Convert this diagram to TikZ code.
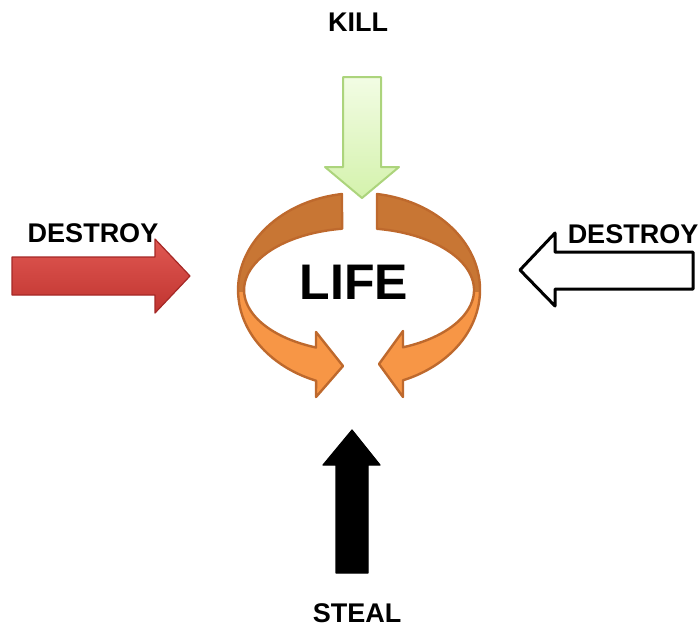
\documentclass[tikz,border=0pt]{standalone}
\usepackage{fontspec}
\setmainfont{Liberation Sans}
\definecolor{ringdark}{RGB}{200,118,52}
\definecolor{ringlight}{RGB}{247,150,70}
\definecolor{ringedge}{RGB}{190,105,45}
\definecolor{killtop}{RGB}{242,252,228}
\definecolor{killbot}{RGB}{212,242,172}
\definecolor{killedge}{RGB}{172,212,124}
\definecolor{redtop}{RGB}{224,88,82}
\definecolor{redbot}{RGB}{192,52,48}
\definecolor{rededge}{RGB}{165,40,38}
\begin{document}
\begin{tikzpicture}[x=0.5pt,y=-0.5pt]
   \tikzset{word/.style={font=\fontsize{13.5}{14}\selectfont\bfseries, inner sep=0pt},
            ring/.style={draw=ringedge, line width=1.2pt, fill=ringlight, line join=round,
                         path picture={\fill[ringdark] (0,0) rectangle (700,292);}}};

\useasboundingbox (0,0) rectangle (700,629);

% the two bent arrows round LIFE
\path[ring] (342,194) arc[start angle=261.9, end angle=110.8, x radius=121, y radius=97]
   -- (316,397) -- (343,366) -- (316,332) -- (316,347.5)
   arc[start angle=112, end angle=261.5, x radius=115, y radius=62] -- cycle;
\path[ring] (377,194) arc[start angle=278.55, end angle=428.7, x radius=121, y radius=97]
   -- (403,397) -- (379,364) -- (403,331) -- (403,347.3)
   arc[start angle=427.5, end angle=279, x radius=115, y radius=62] -- cycle;

% block arrows
\path[top color=killtop, bottom color=killbot, draw=killedge, line width=1pt, line join=round]
   (343,77) -- (381,77) -- (381,167) -- (399,167) -- (362,198) -- (325,167) -- (343,167) -- cycle;
\path[top color=redtop, bottom color=redbot, draw=rededge, line width=0.6pt, line join=round]
   (12,257) -- (155,257) -- (155,239) -- (190,276) -- (155,313) -- (155,295) -- (12,295) -- cycle;
\path[fill=white, draw=black, line width=1.5pt, line join=round]
   (693,252) -- (555,252) -- (555,233) -- (520,270) -- (555,306) -- (555,289) -- (693,289) -- cycle;
\path[fill=black, draw=black, line width=0.6pt, line join=round]
   (336,573) -- (336,465) -- (323,465) -- (352,430) -- (380,465) -- (368,465) -- (368,573) -- cycle;

% words
\node[word] (kill) at (358,22) {KILL};
\node[word] (destroyl) at (93,233) {DESTROY};
\node[word] (destroyr) at (633,234) {DESTROY};
\node[word] (steal) at (357,613) {STEAL};
\node[word, font=\fontsize{25}{26}\selectfont\bfseries] (life) at (354,282) {LIFE};

\end{tikzpicture}
\end{document}
